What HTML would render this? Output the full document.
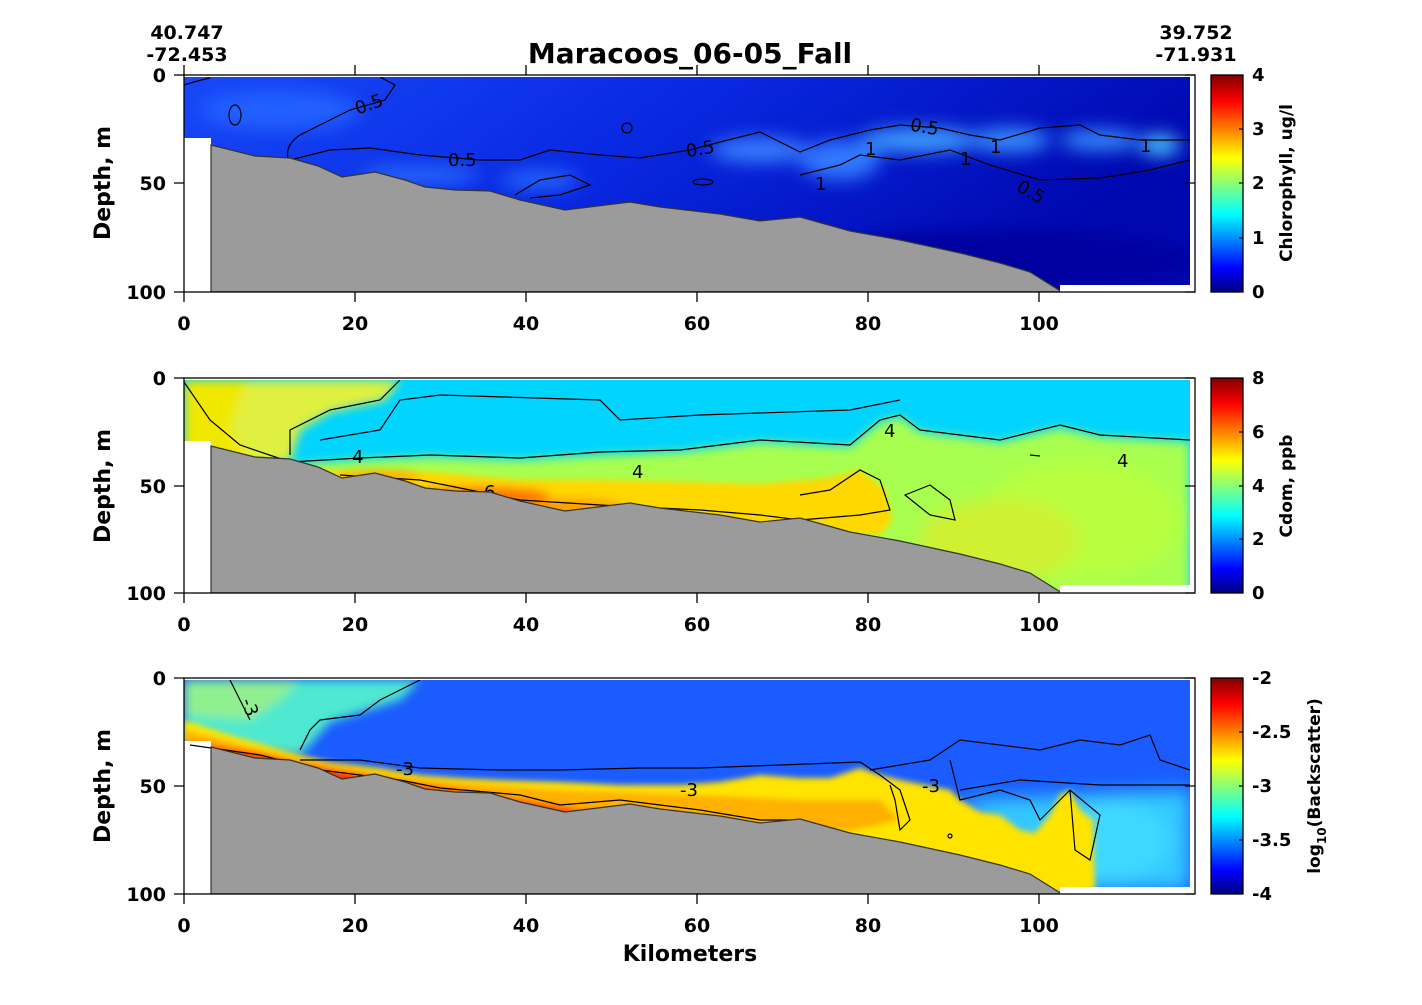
<!DOCTYPE html>
<html><head><meta charset="utf-8"><style>
html,body{margin:0;padding:0;background:#fff;}
svg{display:block;font-family:"DejaVu Sans","Liberation Sans",sans-serif;font-weight:bold;}
</style></head><body>
<svg width="1422" height="1005" viewBox="0 0 1422 1005" xmlns="http://www.w3.org/2000/svg">
<defs>
<filter id="bl" x="-20%" y="-20%" width="140%" height="140%"><feGaussianBlur stdDeviation="9"/></filter>
<filter id="bl2" x="-20%" y="-20%" width="140%" height="140%"><feGaussianBlur stdDeviation="5"/></filter>
<filter id="bl3" x="-20%" y="-20%" width="140%" height="140%"><feGaussianBlur stdDeviation="3"/></filter>
<linearGradient id="jet" x1="0" y1="1" x2="0" y2="0">
<stop offset="0" stop-color="#000080"/><stop offset="0.11" stop-color="#0000ff"/>
<stop offset="0.36" stop-color="#00ffff"/><stop offset="0.62" stop-color="#ffff00"/>
<stop offset="0.88" stop-color="#ff0000"/><stop offset="1" stop-color="#800000"/></linearGradient>
<linearGradient id="chlbg" x1="0" y1="0" x2="1" y2="0.3">
<stop offset="0" stop-color="#1848f8"/><stop offset="0.5" stop-color="#0828e0"/><stop offset="1" stop-color="#0008b0"/></linearGradient>
<clipPath id="c1"><path d="M184,77 H1190 V285 H1060 L1060,292 H184 Z"/></clipPath>
<clipPath id="c2"><path d="M184,380 H1190 V585 H1060 L1060,593 H184 Z"/></clipPath>
<clipPath id="c3"><path d="M184,680 H1190 V887 H1060 L1060,894 H184 Z"/></clipPath>
<path id="bathy" d="M211,292 L211,145 L255,156 L290,158 L318,166 L342,177 L375,172 L405,180 L425,187 L455,190 L490,191 L520,200 L565,210 L630,202 L660,207 L720,214 L760,221 L800,217 L850,231 L900,240 L960,253 L1000,263 L1030,272 L1062,292 Z"/>
</defs>

<text x="690" y="63" font-size="28" text-anchor="middle">Maracoos_06-05_Fall</text>
<text x="187" y="39" font-size="19" text-anchor="middle">40.747</text>
<text x="187" y="61" font-size="19" text-anchor="middle">-72.453</text>
<text x="1196" y="39" font-size="19" text-anchor="middle">39.752</text>
<text x="1196" y="61" font-size="19" text-anchor="middle">-71.931</text>

<!-- PANEL 1 -->
<g clip-path="url(#c1)">
<rect x="184" y="77" width="1006" height="215" fill="url(#chlbg)"/>
<g filter="url(#bl)">
<ellipse cx="420" cy="175" rx="60" ry="8" fill="#2a70ff"/>
<ellipse cx="540" cy="180" rx="40" ry="8" fill="#2a70ff"/>
<ellipse cx="760" cy="150" rx="50" ry="12" fill="#3a80ff"/>
<ellipse cx="840" cy="160" rx="40" ry="20" fill="#3078ff"/>
<ellipse cx="920" cy="140" rx="60" ry="12" fill="#40a0ff"/>
<ellipse cx="1010" cy="140" rx="40" ry="12" fill="#3890ff"/>
<ellipse cx="1100" cy="140" rx="40" ry="10" fill="#3890ff"/>
<ellipse cx="1160" cy="145" rx="20" ry="10" fill="#50d0ff"/>
<ellipse cx="280" cy="110" rx="80" ry="20" fill="#2060ff"/>
<ellipse cx="1000" cy="260" rx="200" ry="30" fill="#0000a0"/>
</g>
<rect x="184" y="138" width="27" height="160" fill="#fff"/>
<g fill="none" stroke="#000" stroke-width="1.2">
<path d="M184,85 Q200,80 210,78"/>
<path d="M288,158 Q285,145 300,135 L330,120 L350,110 L385,100 L395,85 L380,77"/>
<path d="M290,160 L330,150 L370,148 L420,155 L480,160 L520,160 L550,150 L600,155 L640,158 L690,150 L720,142 L760,132 L800,152 L830,140 L870,130 L900,125 L940,128 L970,135 L1000,140 L1040,128 L1080,125 L1100,135 L1140,140 L1190,140"/>
<path d="M515,195 L540,180 L570,175 L590,185 L560,195 L530,198"/>
<path d="M800,175 L840,165 L860,155 L900,160 L950,150 L990,165 L1040,180 L1100,178 L1150,170 L1190,160"/>
<ellipse cx="235" cy="115" rx="6" ry="10"/><ellipse cx="627" cy="128" rx="5" ry="5"/>
<ellipse cx="703" cy="182" rx="10" ry="3"/>
</g>
<g font-size="18" font-weight="normal" fill="#000">
<text x="355" y="110" transform="rotate(-20 370 105)">0.5</text>
<text x="448" y="166">0.5</text>
<text x="686" y="155" transform="rotate(-10 700 150)">0.5</text>
<text x="910" y="133" transform="rotate(10 925 128)">0.5</text>
<text x="1015" y="198" transform="rotate(30 1030 195)">0.5</text>
<text x="815" y="190">1</text><text x="865" y="155">1</text><text x="960" y="165">1</text><text x="990" y="153">1</text><text x="1140" y="152">1</text>
</g>
<use href="#bathy" fill="#9b9b9b" stroke="#333" stroke-width="1.2"/>
</g>

<!-- PANEL 2 -->
<g clip-path="url(#c2)">
<rect x="184" y="380" width="1006" height="215" fill="#00d4ff"/>
<g filter="url(#bl2)">
<path d="M184,380 L400,380 L385,400 L330,412 L300,430 L290,462 L184,470 Z" fill="#e0f040"/>
<path d="M184,380 L250,380 L240,400 L230,430 L250,460 L184,460 Z" fill="#f0e800"/>
<path d="M290,465 L360,460 L430,457 L520,460 L600,455 L680,452 L760,442 L850,447 L880,422 L900,417 L920,432 L1000,442 L1060,428 L1100,437 L1190,442 L1190,600 L184,600 Z" fill="#a8ff50"/>
</g>
<g filter="url(#bl3)">
<path d="M300,468 L360,472 L430,472 L520,480 L600,480 L680,482 L760,484 L830,478 L860,470 L885,490 L892,520 L880,535 L300,535 Z" fill="#ffd800"/>
</g>
<g filter="url(#bl)">
<ellipse cx="1080" cy="520" rx="100" ry="60" fill="#b8ff40"/>
<ellipse cx="1000" cy="540" rx="80" ry="40" fill="#d0f030"/>
</g>
<g filter="url(#bl2)">
<ellipse cx="480" cy="497" rx="70" ry="9" fill="#ff7000"/>
<ellipse cx="570" cy="507" rx="55" ry="7" fill="#ff9800"/>
<ellipse cx="380" cy="477" rx="40" ry="5" fill="#ffa000"/>
</g>
<rect x="184" y="441" width="27" height="160" fill="#fff"/>
<g fill="none" stroke="#000" stroke-width="1.2">
<path d="M184,382 L210,420 L240,445 L290,462 L360,458 L430,455 L520,458 L600,452 L680,450 L760,440 L850,445 L880,420 L900,415 L920,430 L1000,440 L1060,425 L1100,435 L1190,440"/>
<path d="M290,455 L290,430 L330,410 L380,400 L400,380"/>
<path d="M320,440 L380,430 L400,400 L440,395 L600,400 L620,420 L700,415 L850,410 L900,400"/>
<path d="M340,475 L420,480 L470,490 L520,500 L600,505 L700,510 L760,515 L800,520 L860,515 L890,510 L880,480 L860,470 L830,490 L800,495"/>
<path d="M905,495 L930,485 L950,500 L955,520 L930,515 Z"/>
<path d="M1030,455 L1040,456"/>
</g>
<g font-size="18" font-weight="normal"><text x="352" y="463">4</text><text x="632" y="478">4</text><text x="884" y="437">4</text><text x="1117" y="467">4</text><text x="484" y="498">6</text></g>
<use href="#bathy" transform="translate(0,301)" fill="#9b9b9b" stroke="#333" stroke-width="1.2"/>
</g>

<!-- PANEL 3 -->
<g clip-path="url(#c3)">
<rect x="184" y="680" width="1006" height="215" fill="#1a5cff"/>
<g filter="url(#bl)">
<path d="M960,800 L1190,790 L1190,890 L1060,890 Z" fill="#30c8ff"/>
<ellipse cx="1110" cy="840" rx="60" ry="40" fill="#40d8ff"/>
</g>
<g filter="url(#bl2)">
<path d="M184,680 L420,680 L400,700 L330,722 L310,745 L300,755 L184,745 Z" fill="#50e8d0"/>
<path d="M184,680 L300,680 L280,700 L250,720 L184,715 Z" fill="#90f090"/>
</g>
<g filter="url(#bl3)">
<path d="M184,720 L230,735 L300,755 L330,762 L380,768 L420,775 L460,778 L500,780 L560,782 L620,785 L680,785 L720,782 L760,775 L800,778 L830,778 L860,768 L880,775 L900,780 L950,790 L960,800 L980,812 L1000,815 L1020,830 L1035,833 L1050,815 L1060,795 L1070,790 L1080,810 L1093,820 L1095,890 L1060,894 L184,894 Z" fill="#ffe400"/>
<path d="M184,730 L300,760 L420,780 L560,790 L700,795 L800,800 L880,800 L900,820 L850,831 L211,800 Z" fill="#ffb000"/>
<path d="M184,740 L260,752 L330,768 L420,782 L500,795 L580,808 L640,810 L720,820 L760,828 L800,822 L850,836 L211,850 Z" fill="#ff8000"/>
<path d="M200,745 L260,755 L330,770 L420,787 L490,797 L540,805 L580,812 L520,825 L211,800 Z" fill="#ff2a00"/>
</g>
<rect x="184" y="741" width="27" height="160" fill="#fff"/>
<g fill="none" stroke="#000" stroke-width="1.2">
<path d="M190,745 L260,755 L320,770 L400,780 L440,788 L520,795 L560,805 L620,800 L700,810 L760,820 L800,820"/>
<path d="M300,760 L360,760 L420,768 L500,770 L560,770 L640,768 L700,768 L780,765 L860,762 L880,775 L900,790 L910,820 L900,830 L895,800 L890,785"/>
<path d="M300,750 L310,730 L320,720 L360,715 L380,700 L420,680"/>
<path d="M870,770 L930,760 L960,740 L1000,745 L1040,750 L1080,740 L1120,745 L1150,735 L1160,760 L1190,770"/>
<path d="M950,760 L960,800 L1000,790 L1030,800 L1040,820 L1060,800 L1070,790 L1100,815 L1090,860 L1075,850 L1070,790"/>
<path d="M960,790 L1020,780 L1100,785 L1190,785"/>
<path d="M230,680 L240,700 L250,720"/>
<circle cx="950" cy="836" r="2"/>
</g>
<g font-size="18" font-weight="normal"><text x="396" y="775">-3</text><text x="680" y="796">-3</text><text x="922" y="792">-3</text><text x="243" y="712" transform="rotate(70 250 705)">-3</text></g>
<use href="#bathy" transform="translate(0,602)" fill="#9b9b9b" stroke="#333" stroke-width="1.2"/>
</g>

<g fill="none" stroke="#000" stroke-width="1.3">
<rect x="184" y="75" width="1011" height="217"/>
<rect x="184" y="378" width="1011" height="215"/>
<rect x="184" y="678" width="1011" height="216"/>
</g>
<g stroke="#000" stroke-width="1.3">
<path d="M184,292v10M355,292v10M526,292v10M697,292v10M868,292v10M1039,292v10 M184,75v-10M355,75v-10M526,75v-10M697,75v-10M868,75v-10M1039,75v-10"/>
<path d="M184,593v10M355,593v10M526,593v10M697,593v10M868,593v10M1039,593v10"/>
<path d="M184,894v10M355,894v10M526,894v10M697,894v10M868,894v10M1039,894v10"/>
<path d="M184,75h-10M184,183h-10M184,292h-10 M1195,75h-10M1195,183h-10M1195,292h-10"/>
<path d="M184,378h-10M184,486h-10M184,593h-10 M1195,378h-10M1195,486h-10M1195,593h-10"/>
<path d="M184,678h-10M184,786h-10M184,894h-10 M1195,678h-10M1195,786h-10M1195,894h-10"/>
</g>
<g font-size="19" text-anchor="middle">
<text x="184" y="330">0</text><text x="355" y="330">20</text><text x="526" y="330">40</text><text x="697" y="330">60</text><text x="868" y="330">80</text><text x="1039" y="330">100</text>
<text x="184" y="631">0</text><text x="355" y="631">20</text><text x="526" y="631">40</text><text x="697" y="631">60</text><text x="868" y="631">80</text><text x="1039" y="631">100</text>
<text x="184" y="932">0</text><text x="355" y="932">20</text><text x="526" y="932">40</text><text x="697" y="932">60</text><text x="868" y="932">80</text><text x="1039" y="932">100</text>
</g>
<g font-size="19" text-anchor="end">
<text x="166" y="82">0</text><text x="166" y="190">50</text><text x="166" y="299">100</text>
<text x="166" y="385">0</text><text x="166" y="493">50</text><text x="166" y="600">100</text>
<text x="166" y="685">0</text><text x="166" y="793">50</text><text x="166" y="901">100</text>
</g>
<g font-size="22" text-anchor="middle">
<text transform="translate(110,183) rotate(-90)">Depth, m</text>
<text transform="translate(110,486) rotate(-90)">Depth, m</text>
<text transform="translate(110,786) rotate(-90)">Depth, m</text>
<text x="690" y="961">Kilometers</text>
</g>

<g stroke="#000" stroke-width="1.3">
<rect x="1211" y="75" width="32" height="217" fill="url(#jet)"/>
<rect x="1211" y="378" width="32" height="215" fill="url(#jet)"/>
<rect x="1211" y="678" width="32" height="216" fill="url(#jet)"/>
<path d="M1243,129h-4M1243,183h-4M1243,238h-4 M1243,432h-4M1243,486h-4M1243,539h-4 M1243,732h-4M1243,786h-4M1243,840h-4"/>
</g>
<g font-size="18" text-anchor="start">
<text x="1252" y="81">4</text><text x="1252" y="135">3</text><text x="1252" y="189">2</text><text x="1252" y="244">1</text><text x="1252" y="298">0</text>
<text x="1252" y="384">8</text><text x="1252" y="438">6</text><text x="1252" y="492">4</text><text x="1252" y="545">2</text><text x="1252" y="599">0</text>
<text x="1252" y="684">-2</text><text x="1252" y="738">-2.5</text><text x="1252" y="792">-3</text><text x="1252" y="846">-3.5</text><text x="1252" y="900">-4</text>
</g>
<g font-size="17" text-anchor="middle">
<text transform="translate(1292,183) rotate(-90)">Chlorophyll, ug/l</text>
<text transform="translate(1292,486) rotate(-90)">Cdom, ppb</text>
<text transform="translate(1320,786) rotate(-90)">log<tspan font-size="12" dy="6">10</tspan><tspan dy="-6">(Backscatter)</tspan></text>
</g>
</svg>
</body></html>
